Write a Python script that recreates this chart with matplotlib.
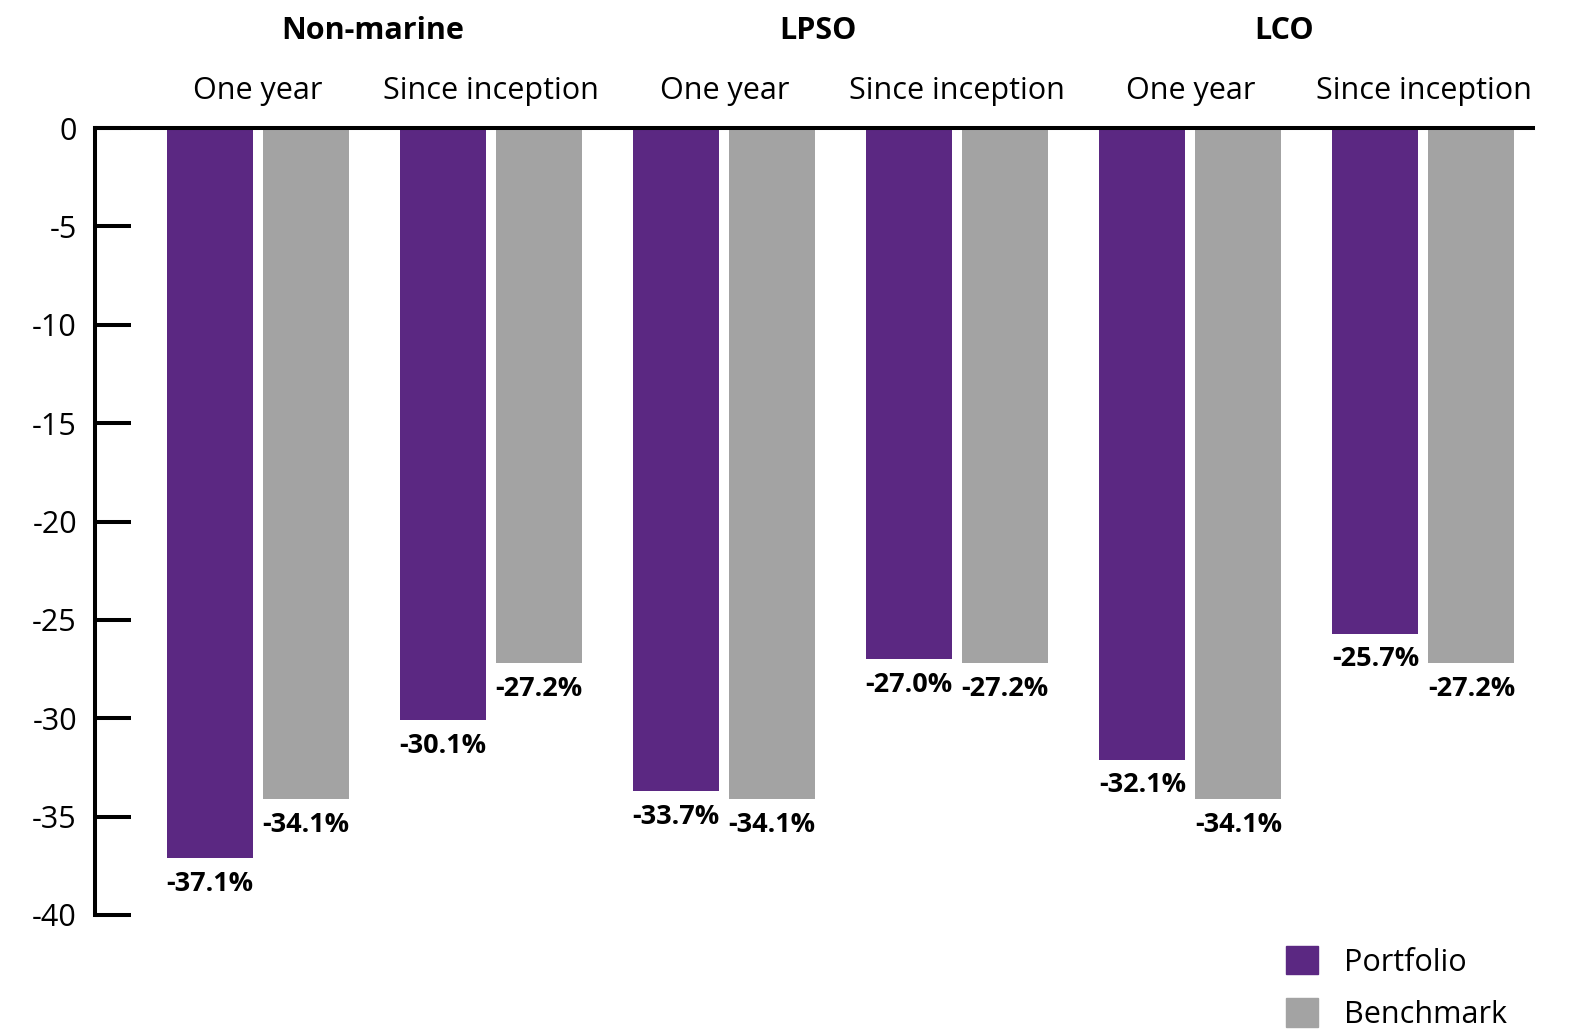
import numpy as np
import matplotlib
matplotlib.use('Agg')
import matplotlib.pyplot as plt
from matplotlib.patches import Patch

plt.rcParams['font.family'] = ['Open Sans', 'DejaVu Sans']

# data
groups = ['Non-marine', 'LPSO', 'LCO']
periods = ['One year', 'Since inception']
portfolio = [-37.1, -30.1, -33.7, -27.0, -32.1, -25.7]
benchmark = [-34.1, -27.2, -34.1, -27.2, -34.1, -27.2]
yticks = [0, -5, -10, -15, -20, -25, -30, -35, -40]

purple = '#5b2882'
grey = '#a3a3a3'

W, H = 1577, 1031
fig = plt.figure(figsize=(W / 100, H / 100), dpi=100)
ax = fig.add_axes([95 / W, 1 - 915 / H, (1533 - 95) / W, (915 - 128) / H])

x = np.arange(len(portfolio))
bw = 0.369
off = 0.206
ax.bar(x - off, portfolio, bw, color=purple, zorder=1)
ax.bar(x + off, benchmark, bw, color=grey, zorder=1)

for xi, v in zip(x - off, portfolio):
    ax.annotate('%.1f%%' % v, (xi, v), xytext=(0, -18.5), textcoords='offset points',
                ha='center', va='center', fontsize=19.5, fontweight='bold')
for xi, v in zip(x + off, benchmark):
    ax.annotate('%.1f%%' % v, (xi, v), xytext=(0, -18.5), textcoords='offset points',
                ha='center', va='center', fontsize=19.5, fontweight='bold')

ax.set_xlim(-0.70, 5.47)
ax.set_ylim(-40, 0)
ax.set_xticks([])
ax.set_yticks(yticks)
ax.set_yticklabels([str(t) for t in yticks])
ax.tick_params(axis='y', direction='in', length=26, width=2.9, pad=13, labelsize=22)

for s in ['right', 'bottom']:
    ax.spines[s].set_visible(False)
ax.spines['left'].set_linewidth(2.9)
ax.spines['top'].set_linewidth(2.9)
ax.spines['top'].set_zorder(3)

# period labels above each pair
for i in x:
    ax.text(i, 1.047, periods[i % 2], transform=ax.get_xaxis_transform(),
            ha='center', va='center', fontsize=22)

# group headers
group_x = [0.49, 2.40, 4.40]
for gx, g in zip(group_x, groups):
    ax.text(gx, 1.123, g, transform=ax.get_xaxis_transform(),
            ha='center', va='center', fontsize=22, fontweight='bold')

handles = [Patch(color=purple), Patch(color=grey)]
fig.legend(handles, ['Portfolio', 'Benchmark'], loc='upper left',
           bbox_to_anchor=(1286 / W, 1 - 946 / H), frameon=False, fontsize=22,
           handlelength=1.05, handleheight=1.05, handletextpad=0.85,
           labelspacing=0.68, borderpad=0, borderaxespad=0)

fig.savefig('out.png', dpi=100)
